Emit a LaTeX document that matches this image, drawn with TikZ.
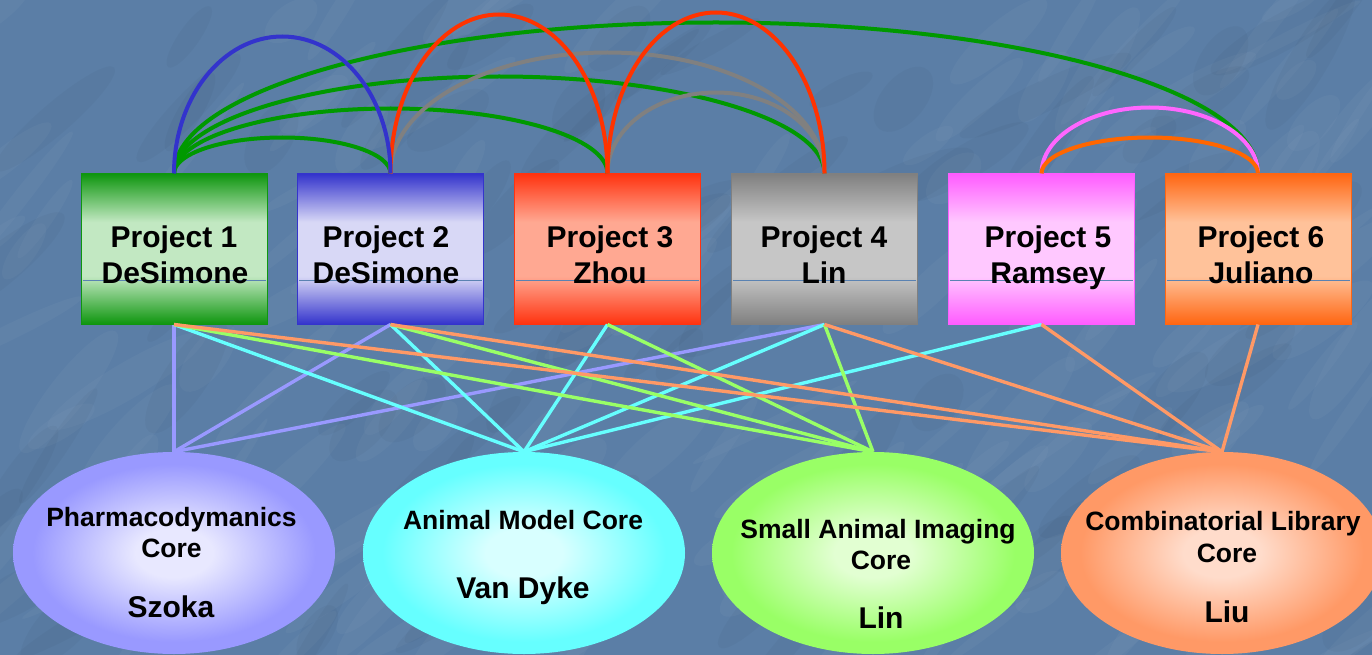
\documentclass[tikz,border=0pt]{standalone}
\usepackage{fontspec}
\setmainfont{Liberation Sans}
\usetikzlibrary{shapes.geometric,calc}

\definecolor{bgblue}{HTML}{5B7EA6}
\definecolor{midline}{HTML}{5A82B2}
% box colours
\definecolor{bAdark}{HTML}{0F960F}\definecolor{bAlight}{HTML}{C2E8C2}
\definecolor{bBdark}{HTML}{3434CC}\definecolor{bBlight}{HTML}{D8D8F6}
\definecolor{bCdark}{HTML}{FF3310}\definecolor{bClight}{HTML}{FFA892}
\definecolor{bDdark}{HTML}{808080}\definecolor{bDlight}{HTML}{C6C6C6}
\definecolor{bEdark}{HTML}{FF5CFF}\definecolor{bElight}{HTML}{FFC8FF}
\definecolor{bFdark}{HTML}{FF6612}\definecolor{bFlight}{HTML}{FFC29A}
% ellipse colours
\definecolor{eAout}{HTML}{9999FF}\definecolor{eAin}{HTML}{E8E8FF}
\definecolor{eBout}{HTML}{66FFFF}\definecolor{eBin}{HTML}{D8FFFF}
\definecolor{eCout}{HTML}{99FF66}\definecolor{eCin}{HTML}{E2FFD2}
\definecolor{eDout}{HTML}{FF9966}\definecolor{eDin}{HTML}{FFDCCB}
% arc colours
\definecolor{arcblue}{HTML}{3333CC}
\definecolor{arcgreen}{HTML}{009900}
\definecolor{arcred}{HTML}{FF3300}
\definecolor{arcgray}{HTML}{808080}
\definecolor{arcpink}{HTML}{FF66FF}
\definecolor{arcorange}{HTML}{FF6600}

\newcommand\myboxshading[3]{\pgfdeclareverticalshading{#1}{100bp}{color(0bp)=(#2); color(25bp)=(#2); color(41bp)=(#3); color(59bp)=(#3); color(75bp)=(#2); color(100bp)=(#2)}}
\newcommand\myellshading[3]{\pgfdeclareradialshading{#1}{\pgfpoint{0bp}{0bp}}{color(0bp)=(#3); color(6bp)=(#3); color(22bp)=(#2); color(50bp)=(#2)}}
\myboxshading{bxA}{bAdark}{bAlight}
\myboxshading{bxB}{bBdark}{bBlight}
\myboxshading{bxC}{bCdark}{bClight}
\myboxshading{bxD}{bDdark}{bDlight}
\myboxshading{bxE}{bEdark}{bElight}
\myboxshading{bxF}{bFdark}{bFlight}
\myellshading{elA}{eAout}{eAin}
\myellshading{elB}{eBout}{eBin}
\myellshading{elC}{eCout}{eCin}
\myellshading{elD}{eDout}{eDin}

\newcommand\toparc[4]{\draw[arcl,#1] let \p1=(#2.north), \p2=(#3.north) in (\p1) arc[start angle=180,end angle=0,x radius={(\x2-\x1)/2},y radius=#4pt];}

\tikzset{
  pbox/.style={draw=#1, line width=1pt, minimum width=186pt, minimum height=150pt, inner sep=0pt},
  ellnode/.style={ellipse, minimum width=322pt, minimum height=202pt, inner sep=0pt},
  midl/.style={midline, line width=0.8pt},
  ptxt/.style={anchor=base, inner sep=0pt, font=\fontsize{30}{36}\selectfont\bfseries},
  ctxt/.style={anchor=base, inner sep=0pt, font=\fontsize{26.5}{31}\selectfont\bfseries},
  ntxt/.style={anchor=base, inner sep=0pt, font=\fontsize{30}{36}\selectfont\bfseries},
  link/.style={line width=3.4pt},
  arcl/.style={line width=4pt},
  streak/.style={fill=white, fill opacity=0.032},
  shade/.style={fill=black, fill opacity=0.028},
}

\begin{document}
\begin{tikzpicture}[x=1pt,y=1pt]
\useasboundingbox (0,0) rectangle (1372,-655);
\clip (0,0) rectangle (1372,-655);
\fill[bgblue] (0,0) rectangle (1372,-655);
% water-like background texture
\pgfmathsetseed{4711}
\foreach \i in {1,...,160}{
  \pgfmathsetmacro{\xx}{rnd*1400-14}
  \pgfmathsetmacro{\yy}{-rnd*680+12}
  \pgfmathsetmacro{\rx}{25+rnd*70}
  \pgfmathsetmacro{\ry}{5+rnd*14}
  \pgfmathsetmacro{\an}{25+rnd*35}
  \fill[streak, rotate around={\an:(\xx,\yy)}] (\xx,\yy) ellipse[x radius=\rx pt, y radius=\ry pt];
}
\foreach \i in {1,...,90}{
  \pgfmathsetmacro{\xx}{rnd*1400-14}
  \pgfmathsetmacro{\yy}{-rnd*680+12}
  \pgfmathsetmacro{\rx}{30+rnd*70}
  \pgfmathsetmacro{\ry}{8+rnd*16}
  \pgfmathsetmacro{\an}{25+rnd*35}
  \fill[shade, rotate around={\an:(\xx,\yy)}] (\xx,\yy) ellipse[x radius=\rx pt, y radius=\ry pt];
}

% project boxes
\node[pbox=bAdark, shading=bxA] (p1) at (174,-249) {};
\node[pbox=bBdark, shading=bxB] (p2) at (390.5,-249) {};
\node[pbox=bCdark, shading=bxC] (p3) at (607.5,-249) {};
\node[pbox=bDdark, shading=bxD] (p4) at (824.5,-249) {};
\node[pbox=bEdark, shading=bxE] (p5) at (1041.5,-249) {};
\node[pbox=bFdark, shading=bxF] (p6) at (1258,-249) {};
\foreach \p in {p1,p2,p3,p4,p5,p6}
  \draw[midl] ([xshift=2pt,yshift=-31pt]\p.west) -- ([xshift=-2pt,yshift=-31pt]\p.east);

% core ellipses
\node[ellnode, shading=elA] (e1) at (174,-553) {};
\node[ellnode, shading=elB] (e2) at (524,-553) {};
\node[ellnode, shading=elC] (e3) at (873,-553) {};
\node[ellnode, shading=elD] (e4) at (1222,-553) {};

% project texts
\node[ptxt] (t1a) at (174,-247) {Project 1};
\node[ptxt] (t1b) at (175,-283) {DeSimone};
\node[ptxt] (t2a) at (386,-247) {Project 2};
\node[ptxt] (t2b) at (386,-283) {DeSimone};
\node[ptxt] (t3a) at (610,-247) {Project 3};
\node[ptxt] (t3b) at (610,-283) {Zhou};
\node[ptxt] (t4a) at (824,-247) {Project 4};
\node[ptxt] (t4b) at (824,-283) {Lin};
\node[ptxt] (t5a) at (1048,-247) {Project 5};
\node[ptxt] (t5b) at (1048,-283) {Ramsey};
\node[ptxt] (t6a) at (1261,-247) {Project 6};
\node[ptxt] (t6b) at (1261,-283) {Juliano};

% core texts
\node[ctxt] (c1a) at (171.5,-526) {Pharmacodymanics};
\node[ctxt] (c1b) at (171.5,-557) {Core};
\node[ntxt] (c1c) at (171,-617) {Szoka};
\node[ctxt] (c2a) at (523,-529) {Animal Model Core};
\node[ntxt] (c2c) at (523,-598) {Van Dyke};
\node[ctxt] (c3a) at (878,-538) {Small Animal Imaging};
\node[ctxt] (c3b) at (881,-569) {Core};
\node[ntxt] (c3c) at (881,-628) {Lin};
\node[ctxt] (c4a) at (1223,-530) {Combinatorial Library};
\node[ctxt] (c4b) at (1227,-562) {Core};
\node[ntxt] (c4c) at (1227,-622) {Liu};

% project -> core links
\foreach \p in {p1,p2,p4} \draw[link,eAout] (\p.south) -- (e1.north);
\foreach \p in {p1,p2,p3,p4,p5} \draw[link,eBout] (\p.south) -- (e2.north);
\foreach \p in {p1,p2,p3,p4} \draw[link,eCout] (\p.south) -- (e3.north);
\foreach \p in {p1,p2,p4,p5,p6} \draw[link,eDout] (\p.south) -- (e4.north);

% project <-> project arcs
\toparc{arcgreen}{p1}{p2}{36}
\toparc{arcgreen}{p1}{p3}{65}
\toparc{arcgreen}{p1}{p4}{97}
\toparc{arcgreen}{p1}{p6}{151}
\toparc{arcgray}{p2}{p4}{121}
\toparc{arcgray}{p3}{p4}{81}
\toparc{arcred}{p2}{p3}{159}
\toparc{arcred}{p3}{p4}{161}
\toparc{arcblue}{p1}{p2}{137}
\toparc{arcpink}{p5}{p6}{66}
\toparc{arcorange}{p5}{p6}{36}
\end{tikzpicture}
\end{document}
